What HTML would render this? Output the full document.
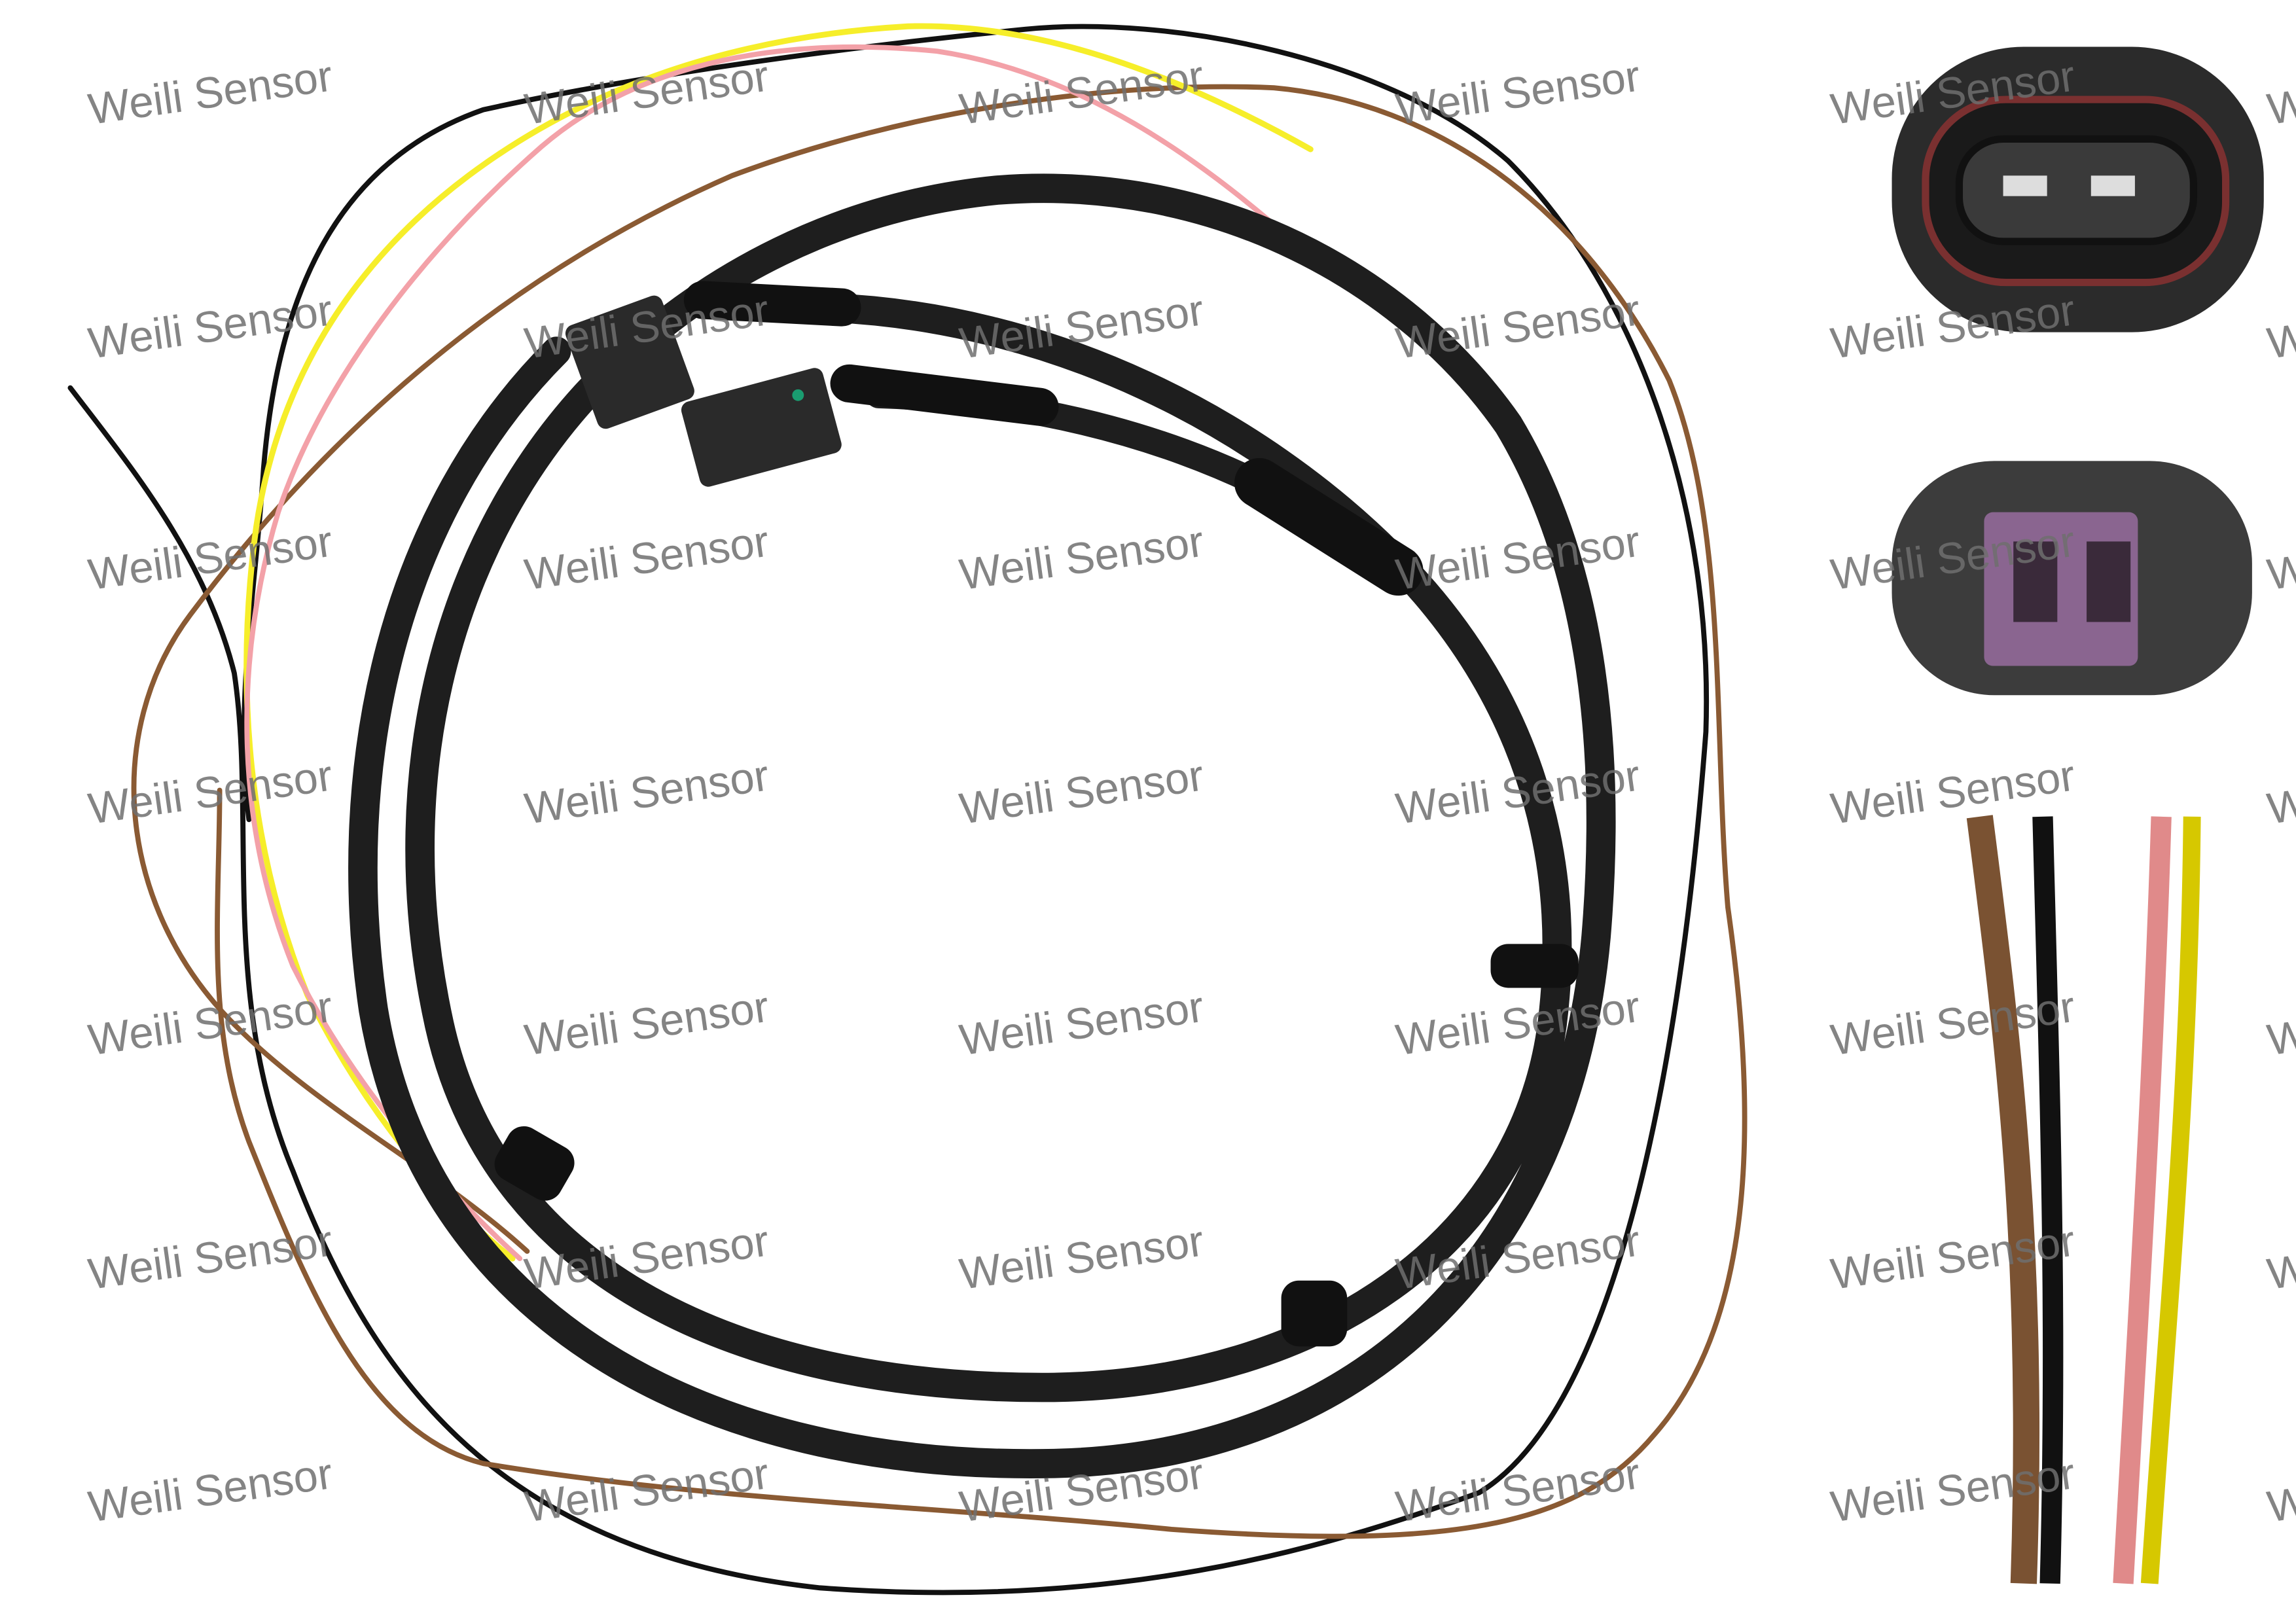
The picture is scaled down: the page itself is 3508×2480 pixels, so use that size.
<!DOCTYPE html>
<html><head><meta charset="utf-8"><style>
html,body{margin:0;padding:0;background:#fff;}
svg{display:block;}
.w{font-family:"Liberation Sans",sans-serif;font-size:30px;fill:#6e6e6e;fill-opacity:.85;}
</style></head><body>
<svg width="3508" height="2480" viewBox="0 0 1568 1109" preserveAspectRatio="none" xmlns="http://www.w3.org/2000/svg">
<rect width="1568" height="1109" fill="#fff"/>
<g fill="none" stroke-linecap="round">
<!-- thin wires -->
<path d="M48,265 C90,320 140,380 160,460 C175,560 150,680 200,800 C250,930 330,1060 560,1085 C760,1100 900,1060 1010,1020 C1110,960 1150,700 1165,500 C1170,350 1120,200 1030,110 C950,40 800,10 700,20 C550,35 420,55 330,75 C230,110 190,200 180,320 C175,400 160,480 170,560" stroke="#111" stroke-width="3.5"/>
<path d="M360,855 C300,800 220,760 160,700 C80,620 70,500 130,420 C220,300 340,190 500,120 C620,75 760,55 870,60 C980,70 1080,140 1140,260 C1180,360 1170,500 1180,620 C1200,760 1200,900 1130,980 C1080,1040 1000,1060 800,1045 C650,1030 480,1025 330,1000 C250,980 210,880 170,780 C140,700 150,620 150,540" stroke="#8a5a33" stroke-width="3.5"/>
<path d="M895,102 C820,60 720,15 620,18 C500,25 400,60 320,120 C240,180 190,260 175,360 C160,470 170,580 210,680 C250,760 300,820 350,860" stroke="#f6ee2a" stroke-width="4"/>
<path d="M880,162 C820,110 740,50 640,35 C540,25 440,40 370,100 C290,170 220,260 190,350 C160,450 160,560 200,660 C240,740 300,810 355,860" stroke="#f3a1a8" stroke-width="3.5"/>
<!-- thick cables -->
<path d="M560,210 C720,215 860,290 950,380 C1040,470 1075,580 1060,700 C1040,850 900,945 720,948 C520,950 340,880 300,700 C265,540 300,380 400,270 C480,185 580,140 680,130 C830,118 960,190 1030,290 C1090,390 1100,520 1090,640 C1070,860 930,995 720,1000 C480,1005 290,900 255,690 C230,520 270,350 380,240" stroke="#1e1e1e" stroke-width="20"/>
<path d="M600,270 C760,275 880,330 945,385" stroke="#1e1e1e" stroke-width="18"/>
<!-- boots -->
<path d="M860,330 L955,390" stroke="#111" stroke-width="34"/>
<path d="M480,205 L575,210" stroke="#111" stroke-width="26"/>
<path d="M580,262 L710,278" stroke="#111" stroke-width="26"/>
<rect x="1018" y="645" width="60" height="30" rx="12" fill="#111"/>
<rect x="340" y="775" width="50" height="40" rx="12" fill="#111" transform="rotate(30 365 795)"/>
<rect x="875" y="875" width="45" height="45" rx="12" fill="#111"/>
</g>
<!-- connectors -->
<rect x="395" y="210" width="70" height="75" rx="6" fill="#2a2a2a" transform="rotate(-20 430 247)"/>
<rect x="470" y="262" width="100" height="60" rx="6" fill="#2a2a2a" transform="rotate(-15 520 292)"/>
<circle cx="545" cy="270" r="4" fill="#1a9c70"/>
<!-- right panel connectors -->
<rect x="1292" y="32" width="254" height="195" rx="90" fill="#2b2b2b"/>
<rect x="1315" y="68" width="205" height="125" rx="55" fill="#1a1a1a" stroke="#7a3030" stroke-width="5"/>
<rect x="1338" y="95" width="160" height="70" rx="30" fill="#3a3a3a" stroke="#111" stroke-width="5"/>
<rect x="1368" y="120" width="30" height="14" fill="#ddd"/>
<rect x="1428" y="120" width="30" height="14" fill="#ddd"/>
<rect x="1292" y="315" width="246" height="160" rx="70" fill="#3c3c3c"/>
<rect x="1355" y="350" width="105" height="105" rx="6" fill="#8a6590"/>
<rect x="1375" y="370" width="30" height="55" fill="#3a2a3a"/>
<rect x="1425" y="370" width="30" height="55" fill="#3a2a3a"/>
<!-- right panel wires -->
<path d="M1352,558 C1370,700 1390,850 1382,1082" stroke="#7a5232" stroke-width="18" fill="none"/>
<path d="M1395,558 C1400,750 1405,900 1400,1082" stroke="#111" stroke-width="14" fill="none"/>
<path d="M1476,558 C1470,750 1460,900 1450,1082" stroke="#e08a8a" stroke-width="14" fill="none"/>
<path d="M1497,558 C1495,750 1480,900 1468,1082" stroke="#d6c800" stroke-width="12" fill="none"/>
<!-- watermarks -->
<g class="w">
<g id="r"><text x="62" y="85" transform="rotate(-8 62 85)">Weili Sensor</text><text x="360" y="85" transform="rotate(-8 360 85)">Weili Sensor</text><text x="657" y="85" transform="rotate(-8 657 85)">Weili Sensor</text><text x="955" y="85" transform="rotate(-8 955 85)">Weili Sensor</text><text x="1252" y="85" transform="rotate(-8 1252 85)">Weili Sensor</text><text x="1550" y="85" transform="rotate(-8 1550 85)">Weili Sensor</text></g>
<use href="#r" y="160"/><use href="#r" y="318"/><use href="#r" y="478"/><use href="#r" y="636"/><use href="#r" y="796"/><use href="#r" y="955"/>
</g>
</svg>
</body></html>
